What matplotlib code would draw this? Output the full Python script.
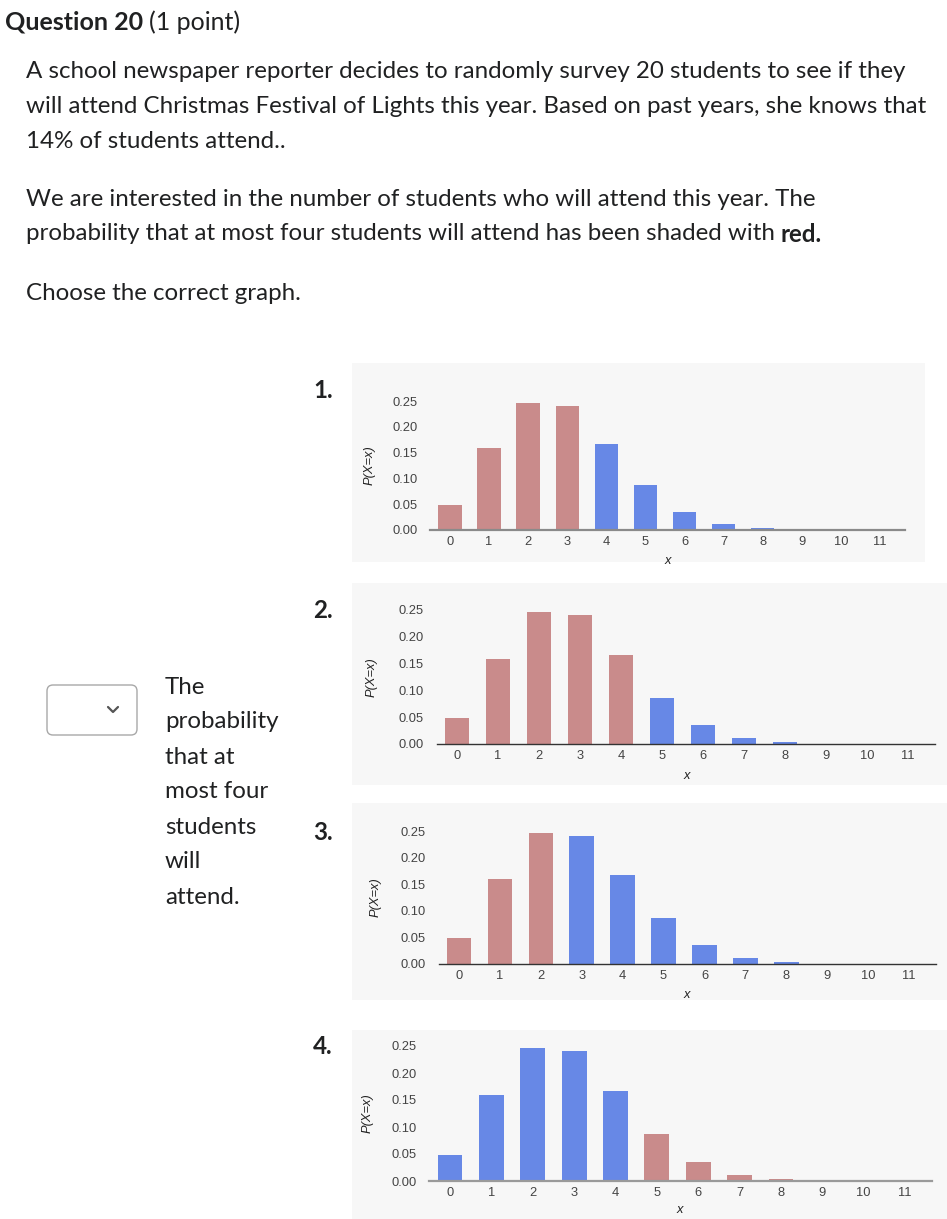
import matplotlib
matplotlib.use('Agg')
import matplotlib.pyplot as plt
from matplotlib.patches import Rectangle, FancyBboxPatch

W, H = 947, 1219

# binomial n=20, p=0.14
x_values = list(range(12))
probs = [0.0489, 0.1593, 0.2463, 0.2405, 0.1664, 0.0867,
         0.0353, 0.0115, 0.0030, 0.0006, 0.0001, 0.0000]
red_sets = [[0, 1, 2, 3], [0, 1, 2, 3, 4], [0, 1, 2], [5, 6, 7, 8, 9, 10, 11]]
panel_names = ['1.', '2.', '3.', '4.']
y_ticks = [0.00, 0.05, 0.10, 0.15, 0.20, 0.25]

para1 = ['A school newspaper reporter decides to randomly survey 20 students to see if they',
         'will attend Christmas Festival of Lights this year. Based on past years, she knows that',
         '14% of students attend..']
para2 = 'We are interested in the number of students who will attend this year. The'
para3 = 'probability that at most four students will attend has been shaded with '
side_lines = ['The', 'probability', 'that at', 'most four', 'students', 'will', 'attend.']

RED = '#c98b8b'
BLUE = '#6788e6'
INK = '#202122'
PAGE_FONT = 'Lato'
CHART_FONT = 'Liberation Sans'
FS = 17.4
CFS = 9.3

fig = plt.figure(figsize=(W / 100, H / 100), dpi=100)
page = fig.add_axes([0, 0, 1, 1])
page.set_xlim(0, W)
page.set_ylim(H, 0)
page.axis('off')
renderer = fig.canvas.get_renderer()


def text_width(s, weight, size=FS):
    t = page.text(0, 0, s, fontsize=size, family=PAGE_FONT, weight=weight)
    w = t.get_window_extent(renderer).width
    t.remove()
    return w


def runs(x, y, parts, size=FS):
    for s, weight in parts:
        page.text(x, y, s, fontsize=size, family=PAGE_FONT, weight=weight,
                  color=INK, va='center', ha='left')
        x += text_width(s, weight, size) + (text_width('a a', weight, size) - text_width('aa', weight, size))


runs(5, 22, [('Question 20', 'bold'), ('(1 point)', 'normal')], size=18)
for i, line in enumerate(para1):
    runs(26, 72 + i * 34.5, [(line, 'normal')])
runs(26, 199, [(para2, 'normal')])
page.text(26, 234, para3, fontsize=FS, family=PAGE_FONT, color=INK, va='center')
page.text(26 + text_width(para3.rstrip(), 'normal')
          + text_width('a a', 'normal') - text_width('aa', 'normal'), 234, 'red.',
          fontsize=FS, family=PAGE_FONT, weight='bold', color=INK, va='center')
runs(26, 294, [('Choose the correct graph.', 'normal')])

for i, line in enumerate(side_lines):
    page.text(165, 687 + i * 35, line, fontsize=FS, family=PAGE_FONT,
              color=INK, va='center')

# dropdown box
page.add_patch(FancyBboxPatch((47, 685), 90, 50, boxstyle='round,pad=0,rounding_size=6',
                              facecolor='white', edgecolor='#a8a8a8', lw=1))
page.plot([108, 113, 118], [707, 712, 707], color='#555555', lw=1.6,
          solid_capstyle='round', solid_joinstyle='round')

# panel layout in page pixels
bg_boxes = [(352, 363, 925, 562), (352, 583, 947, 785), (352, 803, 947, 1000), (352, 1030, 947, 1219)]
y_px = [(530, 401), (744, 610), (964, 831), (1181, 1046)]
x_px = [(450, 880), (457, 908), (459, 909), (450, 905)]
label_px = [(313, 391), (313, 611), (313, 832), (313, 1047)]
ylabel_px = [(370, 465), (372, 677), (376, 897), (368, 1113)]
xlabel_px = [(668, 561), (687, 776), (687, 995), (680, 1210)]
base_colors = ['#8a8a8a', '#333333', '#333333', '#9a9a9a']
base_widths = [1.6, 1.0, 1.0, 1.6]
x_lo, x_hi = -0.5, 11.65

for k in range(4):
    l, t, r, b = bg_boxes[k]
    page.add_patch(Rectangle((l, t), r - l, b - t, facecolor='#f7f7f7', edgecolor='none'))
    page.text(label_px[k][0], label_px[k][1], panel_names[k], fontsize=FS,
              family=PAGE_FONT, weight='bold', color=INK, va='center')

    y0, y25 = y_px[k]
    X0, X11 = x_px[k]
    unit = (X11 - X0) / 11
    left = X0 + x_lo * unit
    width = (x_hi - x_lo) * unit
    ax = fig.add_axes([left / W, 1 - y0 / H, width / W, (y0 - y25) / H])
    ax.patch.set_alpha(0)
    colors = [RED if v in red_sets[k] else BLUE for v in x_values]
    ax.bar(x_values, probs, width=0.6, color=colors, edgecolor='none')
    ax.set_xlim(x_lo, x_hi)
    ax.set_ylim(0, 0.25)
    ax.set_xticks(x_values)
    ax.set_yticks(y_ticks)
    ax.set_yticklabels(['%.2f' % v for v in y_ticks])
    for s in ['top', 'right', 'left']:
        ax.spines[s].set_visible(False)
    ax.spines['bottom'].set_color(base_colors[k])
    ax.spines['bottom'].set_linewidth(base_widths[k])
    ax.tick_params(axis='y', length=0, pad=9, labelsize=CFS, labelcolor='#444444')
    ax.tick_params(axis='x', length=0, pad=4, labelsize=CFS, labelcolor='#444444')
    for lab in ax.get_xticklabels() + ax.get_yticklabels():
        lab.set_family(CHART_FONT)

    page.text(ylabel_px[k][0], ylabel_px[k][1], 'P(X=x)', rotation=90, fontsize=CFS,
              family=CHART_FONT, style='italic', color='#222222', ha='center', va='center')
    page.text(xlabel_px[k][0], xlabel_px[k][1], 'x', fontsize=CFS,
              family=CHART_FONT, style='italic', color='#222222', ha='center', va='center')

fig.savefig('out.png', dpi=100)
